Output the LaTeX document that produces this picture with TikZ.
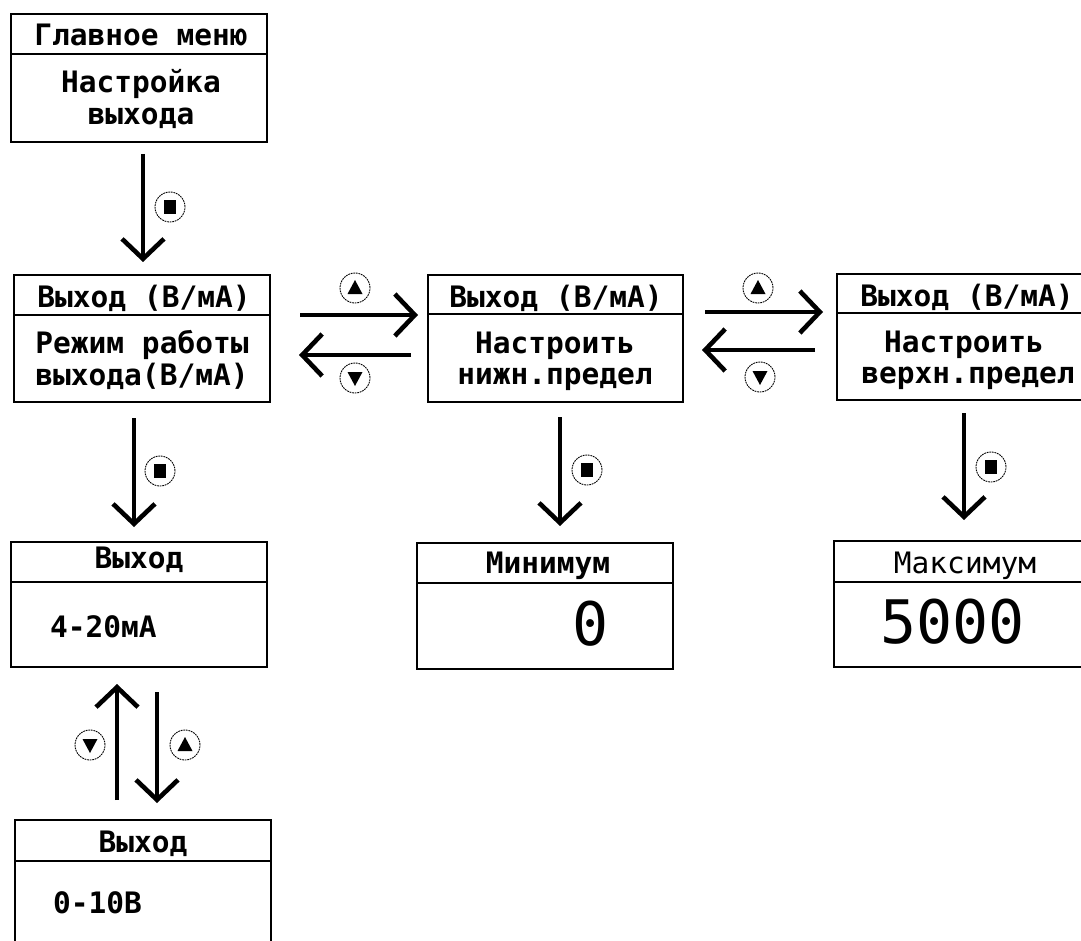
\documentclass[tikz,border=0pt]{standalone}
\usepackage{fontspec}
\newfontfamily\lcd{DejaVu Sans Mono}
\usetikzlibrary{arrows.meta}
\begin{document}
\begin{tikzpicture}[x=1pt,y=-1pt,
  box/.style={draw, line width=1.8pt, minimum width=256pt, inner sep=0pt},
  divline/.style={line width=1.6pt},
  txt/.style={font=\lcd\bfseries\fontsize{29.5}{30}\selectfont, inner sep=0pt, anchor=base},
  txtthin/.style={font=\lcd\fontsize{29.5}{30}\selectfont, inner sep=0pt, anchor=base},
  big/.style={font=\lcd\fontsize{60}{60}\selectfont, inner sep=0pt},
  arr/.style={line width=4.6pt, -{Straight Barb[length=20pt,width=42pt]}},
  icon/.style={circle, draw, line width=0.9pt, dash pattern=on 1.8pt off 0.8pt, minimum size=30pt, inner sep=0pt},
  iconok/.style={icon, path picture={\fill ([shift={(-6pt,-7pt)}]path picture bounding box.center) rectangle ([shift={(6pt,7pt)}]path picture bounding box.center);}},
  iconup/.style={icon, path picture={\fill ([shift={(0pt,8pt)}]path picture bounding box.center) -- ([shift={(7.5pt,-6pt)}]path picture bounding box.center) -- ([shift={(-7.5pt,-6pt)}]path picture bounding box.center) -- cycle;}},
  icondown/.style={icon, path picture={\fill ([shift={(0pt,-8pt)}]path picture bounding box.center) -- ([shift={(7.5pt,6pt)}]path picture bounding box.center) -- ([shift={(-7.5pt,6pt)}]path picture bounding box.center) -- cycle;}}
]
\useasboundingbox (0,0) rectangle (1081,941);
\clip (0,0) rectangle (1081,941);

% boxes
\node[box, minimum height=128pt] (A) at (139,78) {};
\node[box, minimum height=127pt] (B) at (142,338.5) {};
\node[box, minimum height=127pt, minimum width=255pt] (C) at (555.5,338.5) {};
\node[box, minimum height=126pt] (D) at (965,337) {};
\node[box, minimum height=125pt] (E) at (139,604.5) {};
\node[box, minimum height=126pt] (F) at (545,606) {};
\node[box, minimum height=126pt] (G) at (962,604) {};
\node[box, minimum height=126pt] (H) at (143,883) {};

% dividers
\draw[divline] (A.west |- 0,54) -- (A.east |- 0,54);
\draw[divline] (B.west |- 0,315) -- (B.east |- 0,315);
\draw[divline] (C.west |- 0,314) -- (C.east |- 0,314);
\draw[divline] (D.west |- 0,313) -- (D.east |- 0,313);
\draw[divline] (E.west |- 0,582) -- (E.east |- 0,582);
\draw[divline] (F.west |- 0,583) -- (F.east |- 0,583);
\draw[divline] (G.west |- 0,582) -- (G.east |- 0,582);
\draw[divline] (H.west |- 0,861) -- (H.east |- 0,861);

% texts
\node[txt] (tA) at (141,46) {Главное меню};
\node[txt] (tA1) at (141,93) {Настройка};
\node[txt] (tA2) at (141,125) {выхода};

\node[txt] (tB) at (144,307) {Выход (В/мА)};
\node[txt] (tB1) at (142,353) {Режим работы};
\node[txt] (tB2) at (142,385) {выхода(В/мА)};

\node[txt] (tC) at (556,307) {Выход (В/мА)};
\node[txt] (tC1) at (555,353) {Настроить};
\node[txt] (tC2) at (555,384) {нижн.предел};

\node[txt] (tD) at (967,306) {Выход (В/мА)};
\node[txt] (tD1) at (964,352) {Настроить};
\node[txt] (tD2) at (968,383) {верхн.предел};

\node[txt] (tE) at (139,568) {Выход};
\node[txt, anchor=base west] (tE1) at (50,637) {4-20мА};

\node[txt] (tH) at (143,852) {Выход};
\node[txt, anchor=base west] (tH1) at (53,913) {0-10В};

\node[txt] (tF) at (548,573) {Минимум};
\node[big, anchor=base east] (tF1) at (609,645) {0};

\node[txtthin] (tG) at (965,573) {Максимум};
\node[big, anchor=base east] (tG1) at (1025,643) {5000};

% arrow end points
\coordinate (a1s) at (143,154); \coordinate (a1e) at (143,262);
\coordinate (a2s) at (134,418); \coordinate (a2e) at (134,527);
\coordinate (a3s) at (560,417); \coordinate (a3e) at (560,526);
\coordinate (a4s) at (964,413); \coordinate (a4e) at (964,520);
\coordinate (a5s) at (300,315); \coordinate (a5e) at (418,315);
\coordinate (a6s) at (411,355); \coordinate (a6e) at (299,355);
\coordinate (a7s) at (705,312); \coordinate (a7e) at (823,312);
\coordinate (a8s) at (815,350); \coordinate (a8e) at (702,350);
\coordinate (a9s) at (117,800); \coordinate (a9e) at (117,684);
\coordinate (a10s) at (157,692); \coordinate (a10e) at (157,803);

\draw[arr] (a1s) -- (a1e);
\draw[arr] (a2s) -- (a2e);
\draw[arr] (a3s) -- (a3e);
\draw[arr] (a4s) -- (a4e);
\draw[arr] (a5s) -- (a5e);
\draw[arr] (a6s) -- (a6e);
\draw[arr] (a7s) -- (a7e);
\draw[arr] (a8s) -- (a8e);
\draw[arr] (a9s) -- (a9e);
\draw[arr] (a10s) -- (a10e);

% icons
\node[iconok] (i1) at (170,207) {};
\node[iconok] (i2) at (160,471) {};
\node[iconok] (i3) at (587,470) {};
\node[iconok] (i4) at (991,467) {};
\node[iconup] (i5) at (355,288) {};
\node[icondown] (i6) at (355,378) {};
\node[iconup] (i7) at (758,288) {};
\node[icondown] (i8) at (760,377) {};
\node[icondown] (i9) at (90,745) {};
\node[iconup] (i10) at (185,745) {};
\end{tikzpicture}
\end{document}
